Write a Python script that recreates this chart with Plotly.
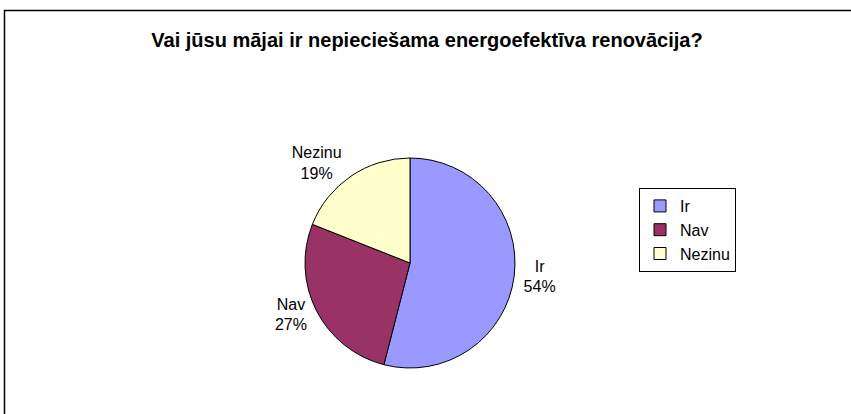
import plotly.graph_objects as go

# survey answers
labels = ["Ir", "Nav", "Nezinu"]
values = [54, 27, 19]
colors = ["#9999FF", "#993366", "#FFFFCC"]

title_text = "Vai jūsu mājai ir nepieciešama energoefektīva renovācija?"

W, H = 851, 414
font_family = "Arial, Liberation Sans, sans-serif"

pie = go.Pie(
    labels=labels,
    values=values,
    sort=False,
    direction="clockwise",
    rotation=0,
    marker=dict(colors=colors, line=dict(color="black", width=1)),
    texttemplate="%{label}<br>%{percent:.0%}",
    textposition="outside",
    textfont=dict(family=font_family, size=16, color="black"),
    hoverinfo="label+percent",
    domain=dict(x=[305 / W, 515 / W], y=[46 / H, 256 / H]),
)

layout = go.Layout(
    width=W,
    height=H,
    margin=dict(l=0, r=0, t=0, b=0),
    paper_bgcolor="white",
    plot_bgcolor="white",
    font=dict(family=font_family, size=16, color="black"),
    title=dict(
        text="<b>" + title_text + "</b>",
        x=427 / W,
        xanchor="center",
        y=1 - 40 / H,
        yanchor="middle",
        font=dict(family=font_family, size=20, color="black"),
    ),
    legend=dict(
        x=639 / W,
        y=1 - 188 / H,
        xanchor="left",
        yanchor="top",
        bordercolor="black",
        borderwidth=1,
        bgcolor="white",
        itemwidth=30,
        font=dict(family=font_family, size=16, color="black"),
    ),
    shapes=[
        # chart area frame (only left and top edges fall inside the picture)
        dict(type="rect", xref="paper", yref="paper",
             x0=4.5 / W, x1=1.05, y0=-0.1, y1=1 - 10.5 / H,
             line=dict(color="black", width=1.5), fillcolor="rgba(0,0,0,0)"),
    ],
)

fig = go.Figure(data=[pie], layout=layout)
# drop the default page margin so the 851x414 figure fills the window
fig.write_html(
    "out.html",
    config={"displayModeBar": False},
    post_script="document.body.style.margin='0';document.body.style.overflow='hidden';",
)
